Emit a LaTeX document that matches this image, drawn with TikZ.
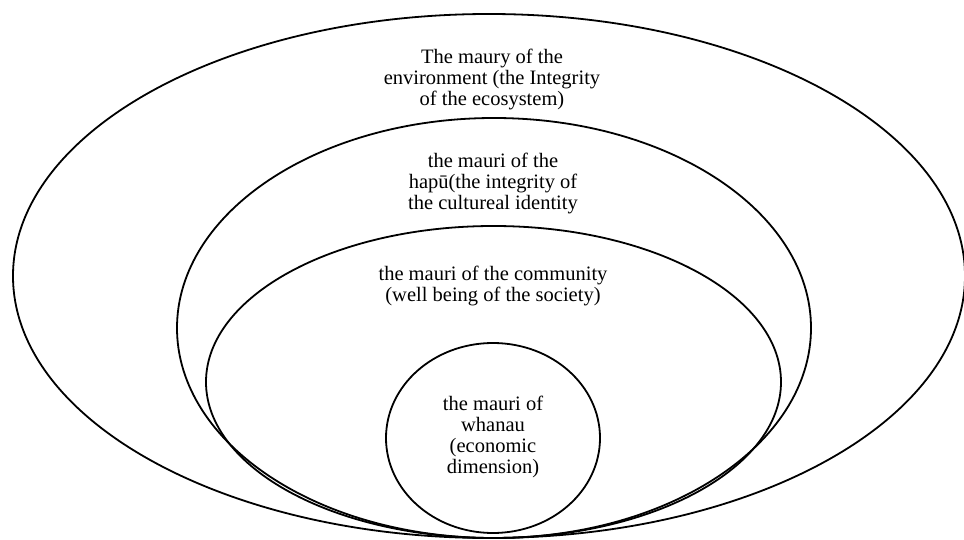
\documentclass[tikz,border=0pt]{standalone}
\usepackage{fontspec}
\setmainfont{Liberation Serif}
\begin{document}
\begin{tikzpicture}[x=1pt,y=-1pt,
  ring/.style={draw=black, line width=1.8pt},
  lbl/.style={align=center, font=\fontsize{20.5}{21}\selectfont, inner sep=0pt}]
\useasboundingbox (0,0) rectangle (964,540);
\draw[ring] (489,276) ellipse [x radius=476, y radius=262];
\draw[ring] (494,328) ellipse [x radius=317, y radius=210];
\draw[ring] (493.5,382) ellipse [x radius=287.5, y radius=156];
\draw[ring] (493,438) ellipse [x radius=107, y radius=95];
\node[lbl] (env) at (492,79) {The maury of the\\environment (the Integrity\\of the ecosystem)};
\node[lbl] (hapu) at (493,183) {the mauri of the\\hapū(the integrity of\\the cultureal identity};
\node[lbl] (comm) at (493,286) {the mauri of the community\\(well being of the society)};
\node[lbl] (whanau) at (493,437) {the mauri of\\whanau\\(economic\\dimension)};
\end{tikzpicture}
\end{document}
